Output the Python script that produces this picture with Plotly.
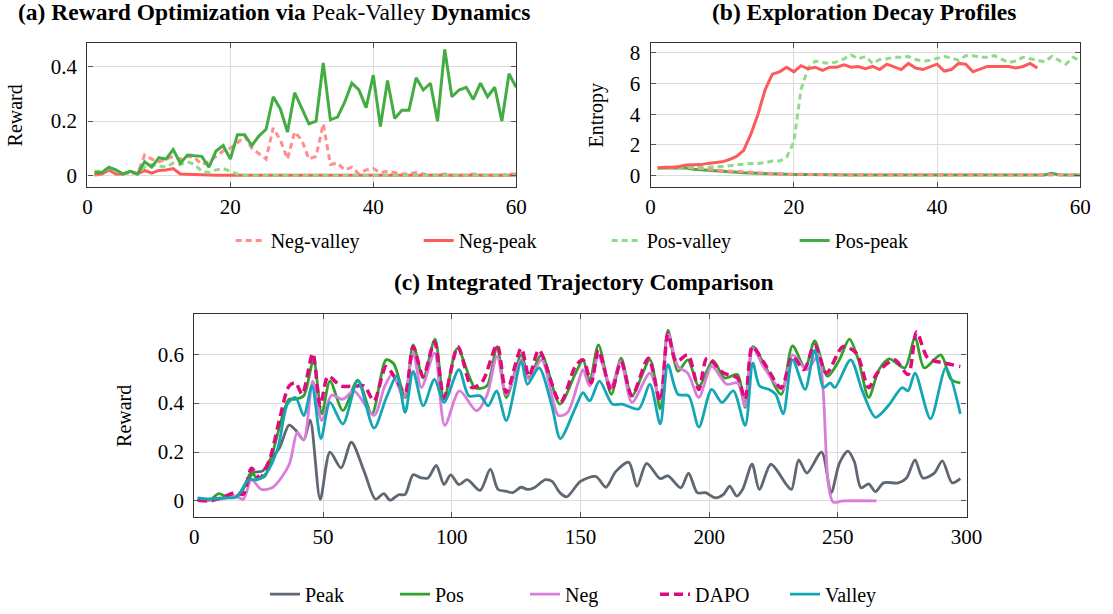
import plotly.graph_objects as go

# ---------------- Panel (a): reward per step ----------------
a_steps = list(range(1, 61))
a_neg_valley = [0.0, 0.005, 0.02, 0.01, 0.005, 0.01, 0.005, 0.075, 0.06, 0.05,
                0.06, 0.07, 0.06, 0.07, 0.065, 0.04, 0.05, 0.07, 0.09, 0.1,
                0.12, 0.145, 0.1, 0.08, 0.06, 0.175, 0.13, 0.06, 0.16, 0.13,
                0.06, 0.07, 0.19, 0.04, 0.045, 0.02, 0.03, 0.005, 0.02, 0.025,
                0.01, 0.015, 0.01, 0.005, 0.005, 0.01, 0.005, 0.0, 0.0, 0.005,
                0.0, 0.0, 0.0, 0.005, 0.0, 0.0, 0.0, 0.0, 0.005, 0.005]
a_neg_peak = [0.005, 0.005, 0.02, 0.005, 0.005, 0.015, 0.005, 0.018, 0.008, 0.018,
              0.02, 0.025, 0.005, 0.005, 0.003, 0.002] + [0.0] * 44
a_pos_valley = [0.015, 0.015, 0.025, 0.015, 0.005, 0.01, 0.005, 0.03, 0.04, 0.035,
                0.03, 0.045, 0.04, 0.05, 0.04, 0.015, 0.01, 0.02, 0.025, 0.015,
                0.005] + [0.0] * 39
a_pos_peak = [0.01, 0.01, 0.03, 0.02, 0.005, 0.015, 0.005, 0.05, 0.03, 0.065,
              0.06, 0.095, 0.045, 0.075, 0.072, 0.07, 0.03, 0.09, 0.11, 0.06,
              0.15, 0.15, 0.11, 0.145, 0.17, 0.29, 0.245, 0.16, 0.305, 0.25,
              0.19, 0.2, 0.415, 0.205, 0.215, 0.27, 0.34, 0.315, 0.25, 0.37,
              0.18, 0.35, 0.21, 0.24, 0.24, 0.36, 0.315, 0.34, 0.2, 0.465,
              0.29, 0.315, 0.325, 0.28, 0.34, 0.29, 0.325, 0.2, 0.375, 0.325]

# ---------------- Panel (b): entropy per step ----------------
b_steps = list(range(1, 61))
b_neg_peak = [0.5, 0.55, 0.55, 0.6, 0.7, 0.7, 0.72, 0.8, 0.85, 0.9,
              1.05, 1.25, 1.65, 2.7, 4.0, 5.6, 6.6, 6.75, 7.05, 6.75,
              7.15, 6.95, 7.05, 6.85, 7.05, 7.05, 7.2, 7.05, 7.1, 6.95,
              7.1, 6.9, 7.25, 7.05, 6.9, 7.3, 7.0, 6.9, 7.1, 7.25,
              6.8, 6.9, 7.3, 7.25, 6.75, 6.9, 7.1, 7.1, 7.1, 7.1,
              7.0, 7.1, 7.3, 7.0]
b_pos_valley = [0.5, 0.5, 0.5, 0.55, 0.6, 0.55, 0.55, 0.55, 0.6, 0.6,
                0.65, 0.7, 0.75, 0.8, 0.8, 0.85, 0.95, 0.95, 1.2, 2.2,
                5.6, 7.0, 7.45, 7.35, 7.3, 7.4, 7.6, 7.85, 7.6, 7.75,
                7.3, 7.55, 7.6, 7.7, 7.7, 7.75, 7.55, 7.45, 7.5, 7.65,
                7.75, 7.65, 7.5, 7.8, 7.8, 7.7, 7.7, 7.8, 7.55, 7.35,
                7.45, 7.7, 7.6, 7.5, 7.4, 7.75, 7.5, 7.25, 7.7, 7.45]
b_pos_peak = [0.5, 0.5, 0.5, 0.5, 0.5, 0.42, 0.38, 0.35, 0.32, 0.28,
              0.25, 0.22, 0.19, 0.17, 0.15, 0.13, 0.11, 0.1, 0.09, 0.08,
              0.07, 0.07, 0.06, 0.06, 0.06, 0.05, 0.05, 0.05, 0.05, 0.05,
              0.05, 0.05, 0.05, 0.05, 0.05, 0.04, 0.04, 0.04, 0.04, 0.04,
              0.04, 0.04, 0.04, 0.04, 0.04, 0.04, 0.04, 0.04, 0.04, 0.04,
              0.04, 0.04, 0.04, 0.04, 0.04, 0.15, 0.06, 0.04, 0.04, 0.04]
b_neg_valley = [0.5, 0.5, 0.5, 0.55, 0.55, 0.5, 0.45, 0.42, 0.38, 0.34,
                0.3, 0.27, 0.24, 0.2, 0.18, 0.16, 0.14, 0.12, 0.1, 0.09,
                0.08, 0.08, 0.07, 0.07, 0.07, 0.06, 0.06, 0.06, 0.06, 0.06,
                0.05, 0.05, 0.05, 0.05, 0.05, 0.05, 0.05, 0.05, 0.05, 0.05,
                0.05, 0.05, 0.05, 0.05, 0.05, 0.05, 0.05, 0.05, 0.05, 0.05,
                0.05, 0.05, 0.05, 0.05, 0.05, 0.05, 0.05, 0.05, 0.05, 0.05]

# ---------------- Panel (c): integrated trajectories ----------------
c_peak_x = [1.3, 6, 11.5, 16.5, 19.5, 22.8, 26.6, 29.8, 33, 36.8, 39.3, 42.5, 45, 48.9,
            52.7, 57, 61, 66, 70.4, 73.6, 76, 79.3, 81.9, 85, 88.2, 90.8, 94, 97, 99.6,
            102.8, 106, 111, 115, 118, 121, 123.7, 126.9, 129.5, 132, 136.4, 139, 142,
            144.7, 150, 156, 159.9, 163.7, 168.8, 172, 175.7, 181, 184, 189, 192, 195.4,
            198.6, 202.4, 205.6, 208, 210.7, 213, 216.7, 219.5, 224, 230, 232, 234.8,
            238, 243.7, 247.4, 250.6, 253.9, 256.4, 259, 262, 264.6, 267.8, 273.5,
            276.7, 280, 283, 287.5, 290.6, 294.4, 297.6]
c_peak_y = [0.009, 0.007, 0.013, 0.02, 0.06, 0.114, 0.123, 0.175, 0.215, 0.31, 0.29, 0.25,
            0.33, 0.007, 0.2, 0.135, 0.24, 0.12, 0.007, 0.03, 0.003, 0.025, 0.027, 0.107,
            0.094, 0.094, 0.145, 0.067, 0.107, 0.067, 0.087, 0.043, 0.13, 0.047, 0.04,
            0.034, 0.056, 0.047, 0.054, 0.087, 0.08, 0.034, 0.017, 0.08, 0.1, 0.056, 0.12,
            0.158, 0.06, 0.154, 0.091, 0.103, 0.054, 0.114, 0.034, 0.034, 0.013, 0.027,
            0.06, 0.02, 0.047, 0.15, 0.047, 0.15, 0.067, 0.047, 0.168, 0.114, 0.2, 0.034,
            0.154, 0.204, 0.161, 0.054, 0.07, 0.038, 0.074, 0.074, 0.094, 0.168, 0.094,
            0.114, 0.164, 0.074, 0.091]

c_pos_x = [1.3, 6, 9.5, 12.7, 17.8, 22.2, 24.1, 27.3, 30.5, 34.3, 36.8, 39.3, 42.5, 46.3,
           49.5, 52.7, 57.7, 63.5, 69, 74.5, 77.5, 81.9, 85, 88.9, 93.5, 97, 102.2, 109.1,
           113.6, 117.6, 121.2, 127, 130, 134.9, 142, 148, 151, 153.6, 157, 162, 165.8,
           170, 177, 181, 184, 187.9, 191.7, 196, 201.5, 206, 211, 214, 217, 221.5, 228,
           232.4, 237.3, 241, 246, 250.6, 254.5, 258, 262, 266, 270, 276, 280, 283.6, 290,
           294, 297.6]
c_pos_y = [0.007, 0.003, 0.03, 0.016, 0.027, 0.12, 0.094, 0.1, 0.2, 0.35, 0.416, 0.416,
           0.43, 0.577, 0.356, 0.49, 0.37, 0.494, 0.356, 0.577, 0.56, 0.423, 0.638, 0.503,
           0.662, 0.416, 0.624, 0.463, 0.47, 0.631, 0.423, 0.597, 0.503, 0.597, 0.396,
           0.52, 0.577, 0.49, 0.638, 0.436, 0.584, 0.43, 0.577, 0.376, 0.698, 0.53, 0.577,
           0.47, 0.574, 0.503, 0.517, 0.383, 0.631, 0.557, 0.436, 0.634, 0.544, 0.654,
           0.51, 0.577, 0.662, 0.577, 0.423, 0.537, 0.581, 0.544, 0.667, 0.544, 0.597,
           0.497, 0.483]

c_neg_x = [1.3, 6, 11.4, 16, 19, 22.2, 26, 30.5, 36.8, 40, 42.5, 46, 49.5, 53.3, 57.7, 62,
           69.8, 74, 77, 81.3, 85, 88.2, 93.3, 97.3, 103, 109.6, 113.6, 117.6, 121.2, 127,
           130, 134.9, 141.5, 145, 149, 151, 153.6, 157, 161.9, 165.7, 170, 177, 181, 184,
           187.9, 191.7, 196, 201, 206.8, 211, 214, 217, 221.4, 228.4, 232.4, 238, 242.5,
           244.3, 246.3, 248.2, 252, 265]
c_neg_y = [0.007, 0.003, 0.01, 0.02, 0.007, 0.087, 0.047, 0.056, 0.148, 0.28, 0.25, 0.49,
           0.329, 0.432, 0.416, 0.45, 0.35, 0.47, 0.52, 0.423, 0.604, 0.463, 0.604, 0.309,
           0.45, 0.369, 0.43, 0.591, 0.436, 0.577, 0.497, 0.577, 0.349, 0.362, 0.48, 0.537,
           0.47, 0.591, 0.47, 0.57, 0.403, 0.523, 0.416, 0.685, 0.55, 0.523, 0.423, 0.55,
           0.477, 0.483, 0.389, 0.624, 0.544, 0.456, 0.597, 0.537, 0.597, 0.45, 0.07,
           -0.005, 0.0, 0.0]

c_dapo_x = [1.3, 6, 11.4, 15.9, 19, 22.2, 25.4, 29.2, 33, 36.8, 39.3, 41.9, 46, 48.9, 52,
            57, 62.8, 66, 69.8, 74.5, 78, 81.9, 85, 88.9, 93.3, 97, 102.4, 107.9, 112,
            117.6, 121.2, 127, 130, 133.9, 142.2, 148, 151, 154.2, 157, 162, 165.8, 170,
            176.4, 181, 184, 187.2, 191.7, 196, 199.2, 205.6, 211, 214, 216.8, 221.4, 228,
            232.4, 236.8, 241, 245.6, 252, 257.2, 262, 265.3, 272, 277.3, 280.6, 285,
            291.4, 297.6]
c_dapo_y = [0.003, 0.0, 0.016, 0.034, 0.027, 0.134, 0.094, 0.168, 0.329, 0.47, 0.483,
            0.436, 0.604, 0.389, 0.51, 0.47, 0.47, 0.47, 0.409, 0.55, 0.503, 0.443, 0.631,
            0.51, 0.651, 0.423, 0.631, 0.463, 0.49, 0.638, 0.443, 0.624, 0.51, 0.617,
            0.403, 0.55, 0.577, 0.483, 0.617, 0.45, 0.57, 0.43, 0.584, 0.409, 0.685, 0.57,
            0.597, 0.456, 0.584, 0.523, 0.503, 0.416, 0.631, 0.564, 0.463, 0.591, 0.537,
            0.638, 0.523, 0.631, 0.604, 0.463, 0.523, 0.577, 0.517, 0.691, 0.584, 0.564,
            0.55]

c_valley_x = [1.3, 6, 11.4, 16.5, 21, 24.5, 28, 32.4, 36.2, 39.3, 42.5, 45.7, 49.2, 52.7,
              57.7, 63.5, 69.8, 74.5, 78.7, 81.9, 85, 88.9, 93.3, 97, 102.8, 106.6, 111,
              114.2, 117.4, 121.2, 127, 129.4, 133.9, 138.9, 142.2, 148, 151, 153.6, 157.4,
              162.4, 166.2, 172.6, 177, 181, 184, 187.9, 192, 196, 201, 205, 209.4, 214,
              217, 219.6, 223.3, 225.9, 228.8, 232.4, 237.3, 241, 244.4, 247, 248.8, 255,
              259.5, 264.6, 269.6, 275, 277.3, 280, 286, 292, 297.6]
c_valley_y = [0.013, 0.007, 0.013, 0.016, 0.087, 0.087, 0.114, 0.215, 0.396, 0.423, 0.349,
              0.47, 0.255, 0.403, 0.315, 0.49, 0.298, 0.42, 0.51, 0.362, 0.53, 0.389, 0.497,
              0.403, 0.537, 0.43, 0.43, 0.389, 0.45, 0.329, 0.57, 0.477, 0.544, 0.389,
              0.255, 0.38, 0.443, 0.409, 0.49, 0.396, 0.396, 0.376, 0.477, 0.315, 0.557,
              0.436, 0.43, 0.302, 0.456, 0.403, 0.45, 0.309, 0.564, 0.47, 0.456, 0.436,
              0.356, 0.577, 0.456, 0.617, 0.463, 0.483, 0.463, 0.577, 0.45, 0.342, 0.389,
              0.463, 0.45, 0.523, 0.336, 0.544, 0.356]

# ---------------- styles ----------------
FONT = "Liberation Serif"
COL_NEG_VALLEY = "#ff8f8f"
COL_NEG_PEAK = "#ff5a5a"
COL_POS_VALLEY = "#8fdc88"
COL_POS_PEAK = "#43ad43"
COL_PEAK = "#5f6872"
COL_POS = "#33a02c"
COL_NEG = "#d97ddb"
COL_DAPO = "#df0a7c"
COL_VALLEY = "#13a6b4"

fig = go.Figure()

# panel a
fig.add_trace(go.Scatter(x=a_steps, y=a_neg_valley, name="Neg-valley", mode="lines",
                         line=dict(color=COL_NEG_VALLEY, width=3, dash="6px,4px"),
                         xaxis="x", yaxis="y", legend="legend"))
fig.add_trace(go.Scatter(x=a_steps, y=a_neg_peak, name="Neg-peak", mode="lines",
                         line=dict(color=COL_NEG_PEAK, width=3),
                         xaxis="x", yaxis="y", legend="legend"))
fig.add_trace(go.Scatter(x=a_steps, y=a_pos_valley, name="Pos-valley", mode="lines",
                         line=dict(color=COL_POS_VALLEY, width=3, dash="6px,4px"),
                         xaxis="x", yaxis="y", legend="legend"))
fig.add_trace(go.Scatter(x=a_steps, y=a_pos_peak, name="Pos-peak", mode="lines",
                         line=dict(color=COL_POS_PEAK, width=3),
                         xaxis="x", yaxis="y", legend="legend"))

# panel b
fig.add_trace(go.Scatter(x=b_steps, y=b_pos_peak, name="Pos-peak", mode="lines",
                         line=dict(color=COL_POS_PEAK, width=3), showlegend=False,
                         xaxis="x2", yaxis="y2"))
fig.add_trace(go.Scatter(x=b_steps, y=b_neg_valley, name="Neg-valley", mode="lines",
                         line=dict(color=COL_NEG_VALLEY, width=3, dash="6px,4px"),
                         showlegend=False, xaxis="x2", yaxis="y2"))
fig.add_trace(go.Scatter(x=b_steps, y=b_pos_valley, name="Pos-valley", mode="lines",
                         line=dict(color=COL_POS_VALLEY, width=3, dash="6px,4px"),
                         showlegend=False, xaxis="x2", yaxis="y2"))
fig.add_trace(go.Scatter(x=b_steps[:len(b_neg_peak)], y=b_neg_peak, name="Neg-peak",
                         mode="lines", line=dict(color=COL_NEG_PEAK, width=3),
                         showlegend=False, xaxis="x2", yaxis="y2"))

# panel c
for nm, xs, ys, col, dash in [
    ("Peak", c_peak_x, c_peak_y, COL_PEAK, "solid"),
    ("Pos", c_pos_x, c_pos_y, COL_POS, "solid"),
    ("Neg", c_neg_x, c_neg_y, COL_NEG, "solid"),
    ("DAPO", c_dapo_x, c_dapo_y, COL_DAPO, "9px,5px"),
    ("Valley", c_valley_x, c_valley_y, COL_VALLEY, "solid"),
]:
    fig.add_trace(go.Scatter(x=xs, y=ys, name=nm, mode="lines",
                             line=dict(color=col, width=3.5 if nm == "DAPO" else 2.8,
                                       dash=dash, shape="spline", smoothing=0.8),
                             xaxis="x3", yaxis="y3", legend="legend2"))

W, H = 1113, 614


def px_x(a, b):
    return [a / W, b / W]


def px_y(top, bottom):
    return [1 - bottom / H, 1 - top / H]


tick_font = dict(family=FONT, size=21, color="black")
common_axis = dict(showline=True, linecolor="#333333", linewidth=1.2, mirror="ticks",
                   ticks="inside", ticklen=5, tickcolor="#555555", tickwidth=1,
                   showgrid=True, gridcolor="#dcdcdc", gridwidth=1, zeroline=False,
                   tickfont=tick_font)
x_axis = dict(common_axis, ticklabelstandoff=0)
y_axis = dict(common_axis, ticklabelstandoff=5)
title_font = dict(family=FONT, size=20, color="black")

fig.update_layout(
    width=W, height=H, autosize=False, margin=dict(l=0, r=0, t=0, b=0),
    paper_bgcolor="white", plot_bgcolor="white",
    font=dict(family=FONT, color="black"),
    xaxis=dict(domain=px_x(84, 521), range=[0, 60], tickvals=[0, 20, 40, 60],
               anchor="y", **x_axis),
    yaxis=dict(domain=px_y(42, 188), range=[-0.044, 0.487], tickvals=[0, 0.2, 0.4],
               anchor="x", title=dict(text="Reward", font=title_font, standoff=22),
               **y_axis),
    xaxis2=dict(domain=px_x(658, 1096), range=[0, 60], tickvals=[0, 20, 40, 60],
                anchor="y2", **x_axis),
    yaxis2=dict(domain=px_y(42, 188), range=[-0.75, 8.6], tickvals=[0, 2, 4, 6, 8],
                anchor="x2", title=dict(text="Entropy", font=title_font, standoff=20),
                **y_axis),
    xaxis3=dict(domain=px_x(193, 980), range=[0, 300],
                tickvals=[0, 50, 100, 150, 200, 250, 300], anchor="y3", **x_axis),
    yaxis3=dict(domain=px_y(317, 523), range=[-0.067, 0.763], tickvals=[0, 0.2, 0.4, 0.6],
                anchor="x3", title=dict(text="Reward", font=title_font, standoff=20),
                **y_axis),
    legend=dict(orientation="h", x=230 / W, xanchor="left", y=1 - 242 / H,
                yanchor="middle", font=dict(family=FONT, size=20), entrywidth=143,
                bgcolor="rgba(0,0,0,0)"),
    legend2=dict(orientation="h", x=265 / W, xanchor="left", y=1 - 601 / H,
                 yanchor="middle", font=dict(family=FONT, size=20), entrywidth=85,
                 bgcolor="rgba(0,0,0,0)"),
    annotations=[
        dict(text="<b>(a) Reward Optimization via</b> Peak-Valley <b>Dynamics</b>",
             x=274 / W, y=1 - 10 / H, xref="paper", yref="paper", showarrow=False,
             xanchor="center", yanchor="middle", font=dict(family=FONT, size=23.5)),
        dict(text="<b>(b) Exploration Decay Profiles</b>",
             x=876 / W, y=1 - 10 / H, xref="paper", yref="paper", showarrow=False,
             xanchor="center", yanchor="middle", font=dict(family=FONT, size=23.5)),
        dict(text="<b>(c) Integrated Trajectory Comparison</b>",
             x=590 / W, y=1 - 284 / H, xref="paper", yref="paper", showarrow=False,
             xanchor="center", yanchor="middle", font=dict(family=FONT, size=23.5)),
    ],
)

fig.write_html("out.html", config={"responsive": False})
